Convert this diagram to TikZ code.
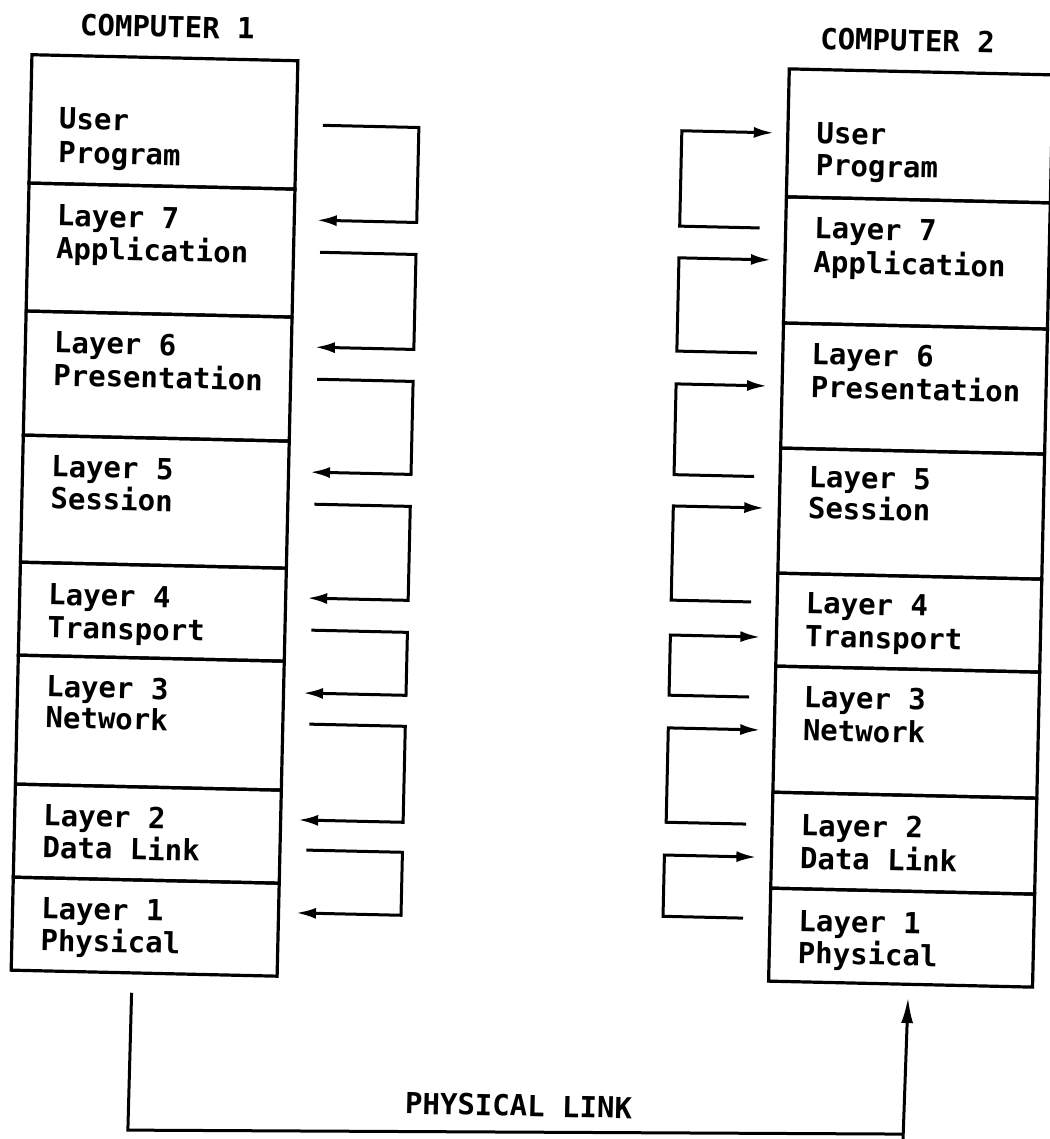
\documentclass[tikz,border=0pt]{standalone}
\usepackage{fontspec}
\newfontfamily\plotfont{DejaVu Sans Mono}
\usetikzlibrary{arrows.meta}
\begin{document}
\begin{tikzpicture}[x=1pt,y=-1pt,
  lbox/.style={draw, line width=3.2pt, inner sep=0pt, minimum width=266pt},
  rbox/.style={draw, line width=3.2pt, inner sep=0pt, minimum width=264pt},
  lbl/.style={inner sep=0pt, anchor=base west, font=\plotfont\bfseries\fontsize{29}{33}\selectfont},
  conn/.style={line width=3pt},
  arr/.style={conn, -{Latex[length=20pt,width=11pt]}},
  uparr/.style={conn, -{Latex[length=26pt,width=12pt]}}
]
\fill[white] (0,0) rectangle (1049,1139);
\useasboundingbox (0,0) rectangle (1049,1139);
\begin{scope}[rotate around={-1.3:(525,520)}, every node/.append style={transform shape}]
% ---------- titles
\node[lbl] (t1) at (68.8,45.6) {COMPUTER 1};
\node[lbl] (t2) at (809.1,42.5) {COMPUTER 2};
% ---------- computer 1 stack
\node[lbox, minimum height=128.4pt] (lb0) at (154.5,130.2) {};
\node[lbox, minimum height=128pt]   (lb1) at (154.5,258.4) {};
\node[lbox, minimum height=124.1pt] (lb2) at (154.5,384.45) {};
\node[lbox, minimum height=127.1pt] (lb3) at (154.5,510.05) {};
\node[lbox, minimum height=93pt]    (lb4) at (154.5,620.1) {};
\node[lbox, minimum height=129pt]   (lb5) at (154.5,731.1) {};
\node[lbox, minimum height=93.1pt]  (lb6) at (154.5,842.15) {};
\node[lbox, minimum height=93pt]    (lb7) at (154.5,935.2) {};
\node[lbl] (la0) at (50,139.5) {User};
\node[lbl] (lb0b) at (50,173.5) {Program};
\node[lbl] (la1) at (50,236.5) {Layer 7};
\node[lbl] (lb1b) at (50,269.5) {Application};
\node[lbl] (la2) at (50,363.5) {Layer 6};
\node[lbl] (lb2b) at (50,396.5) {Presentation};
\node[lbl] (la3) at (50,487.5) {Layer 5};
\node[lbl] (lb3b) at (50,519.5) {Session};
\node[lbl] (la4) at (50,615.5) {Layer 4};
\node[lbl] (lb4b) at (50,648.5) {Transport};
\node[lbl] (la5) at (50,707.5) {Layer 3};
\node[lbl] (lb5b) at (50,738.5) {Network};
\node[lbl] (la6) at (50,836.5) {Layer 2};
\node[lbl] (lb6b) at (50,868.5) {Data Link};
\node[lbl] (la7) at (50,929.5) {Layer 1};
\node[lbl] (lb7b) at (50,961.5) {Physical};
% ---------- computer 2 stack
\node[rbox, minimum height=128pt]   (rb0) at (911,127) {};
\node[rbox, minimum height=126.2pt] (rb1) at (911,254.1) {};
\node[rbox, minimum height=125.1pt] (rb2) at (911,379.75) {};
\node[rbox, minimum height=125.1pt] (rb3) at (911,504.85) {};
\node[rbox, minimum height=93pt]    (rb4) at (911,613.9) {};
\node[rbox, minimum height=126.1pt] (rb5) at (911,723.45) {};
\node[rbox, minimum height=96pt]    (rb6) at (911,834.5) {};
\node[rbox, minimum height=93pt]    (rb7) at (911,929) {};
\node[lbl] (ra0) at (807.5,137) {User};
\node[lbl] (rb0b) at (807.5,169) {Program};
\node[lbl] (ra1) at (807.5,232) {Layer 7};
\node[lbl] (rb1b) at (807.5,266) {Application};
\node[lbl] (ra2) at (807.5,358) {Layer 6};
\node[lbl] (rb2b) at (807.5,391) {Presentation};
\node[lbl] (ra3) at (807.5,480.6) {Layer 5};
\node[lbl] (rb3b) at (807.5,512.1) {Session};
\node[lbl] (ra4) at (807.5,607.2) {Layer 4};
\node[lbl] (rb4b) at (807.5,640.2) {Transport};
\node[lbl] (ra5) at (807.5,701.2) {Layer 3};
\node[lbl] (rb5b) at (807.5,734.2) {Network};
\node[lbl] (ra6) at (807.5,829.3) {Layer 2};
\node[lbl] (rb6b) at (807.5,862.3) {Data Link};
\node[lbl] (ra7) at (807.5,925) {Layer 1};
\node[lbl] (rb7b) at (807.5,957) {Physical};
% ---------- left connectors (downward)
\coordinate (lo1) at (314,130);   \coordinate (li1) at (310,225);
\coordinate (lo2) at (314,257);   \coordinate (li2) at (311,352);
\coordinate (lo3) at (314,384);   \coordinate (li3) at (309,477);
\coordinate (lo4) at (314,509);   \coordinate (li4) at (309,603);
\coordinate (lo5) at (314,635);   \coordinate (li5) at (307,698);
\coordinate (lo6) at (314,729);   \coordinate (li6) at (305,825);
\coordinate (lo7) at (314,855);   \coordinate (li7) at (305,918);
\foreach \i in {1,...,7}{
  \draw[arr] (lo\i) -- ++(96,0) |- (li\i);
}
% ---------- right connectors (upward)
\coordinate (ro1) at (753,222.7); \coordinate (ri1) at (765,127.3);
\coordinate (ro2) at (753,347.7); \coordinate (ri2) at (765,254.4);
\coordinate (ro3) at (753,471.3); \coordinate (ri3) at (764,380.5);
\coordinate (ro4) at (753,596.8); \coordinate (ri4) at (764,502.6);
\coordinate (ro5) at (753,691.9); \coordinate (ri5) at (763,631.7);
\coordinate (ro6) at (753,819);   \coordinate (ri6) at (765,724.6);
\coordinate (ro7) at (752,913.1); \coordinate (ri7) at (764,851.8);
\foreach \i in {1,...,7}{
  \draw[arr] (ro\i) -- ++(-80,0) |- (ri\i);
}
% ---------- physical link
\coordinate (pl1) at (142.4,1001.6);
\coordinate (pl2) at (141.8,1139);
\coordinate (pl3) at (916.9,1125.4);
\coordinate (pl4) at (917,1131);
\coordinate (pl5) at (918.8,988.3);
\draw[conn] (pl1) -- (pl2) -- (pl3);
\draw[uparr] (pl4) -- (pl5);
\node[lbl] (plk) at (418.2,1116.2) {PHYSICAL LINK};
\end{scope}
\end{tikzpicture}
\end{document}
